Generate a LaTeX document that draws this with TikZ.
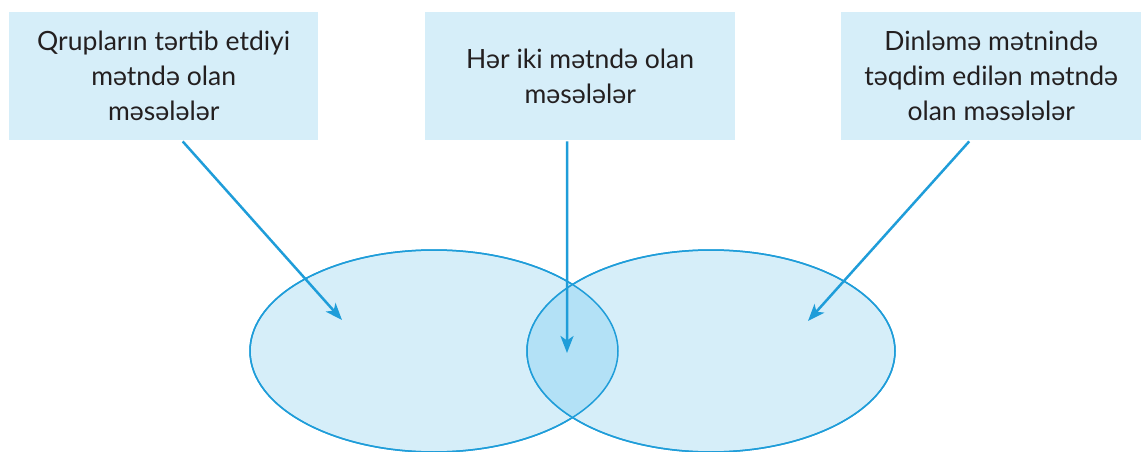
\documentclass[tikz,border=0pt]{standalone}
\usepackage{fontspec}
\setmainfont{Lato}
\usepackage{tikz}
\usetikzlibrary{positioning,arrows.meta,shapes.geometric,calc}
\definecolor{BoxBlue}{HTML}{D6EEF9}
\definecolor{MidBlue}{HTML}{B3E1F6}
\definecolor{LineBlue}{HTML}{1F9DD9}
\definecolor{TextGray}{HTML}{231F20}

\begin{document}
\begin{tikzpicture}[
  x=1pt,y=-1pt,
  box/.style={fill=BoxBlue,align=center,text=TextGray,minimum height=128pt,inner sep=0pt,
    font=\fontsize{26.5}{35}\selectfont},
  set/.style={ellipse,draw=LineBlue,line width=1.5pt,fill=BoxBlue,minimum width=368pt,minimum height=202pt,inner sep=0pt},
  arr/.style={-{Stealth[length=17pt,width=13pt,inset=4.5pt]},draw=LineBlue,line width=2.5pt}
]
\useasboundingbox (0,0) rectangle (1141,452);
\node[box,minimum width=309pt,anchor=north west] (groupbox) at (9,12) {Qrupların tərtib etdiyi\\mətndə olan\\məsələlər};
\node[box,minimum width=310pt,anchor=north west] (bothbox) at (425,12) {Hər iki mətndə olan\\məsələlər};
\node[box,minimum width=300pt,anchor=north west] (listenbox) at (841,12) {Dinləmə mətnində\\təqdim edilən mətndə\\olan məsələlər};
\node[set] (leftset) at (434,351) {};
\node[set] (rightset) at (711,351) {};
% overlap
\begin{scope}
  \clip (434,351) ellipse [x radius=184pt,y radius=101pt];
  \fill[MidBlue] (711,351) ellipse [x radius=184pt,y radius=101pt];
\end{scope}
\draw[LineBlue,line width=1.5pt] (434,351) ellipse [x radius=184pt,y radius=101pt];
\draw[LineBlue,line width=1.5pt] (711,351) ellipse [x radius=184pt,y radius=101pt];
\coordinate (lefttip) at (342,320);
\coordinate (midtip) at (567,353);
\coordinate (righttip) at (808,321);
\draw[arr] ($(groupbox.south)+(19,1)$) -- (lefttip);
\draw[arr] ($(bothbox.south)+(-13,1)$) -- (midtip);
\draw[arr] ($(listenbox.south)+(-22,1)$) -- (righttip);
\end{tikzpicture}
\end{document}
